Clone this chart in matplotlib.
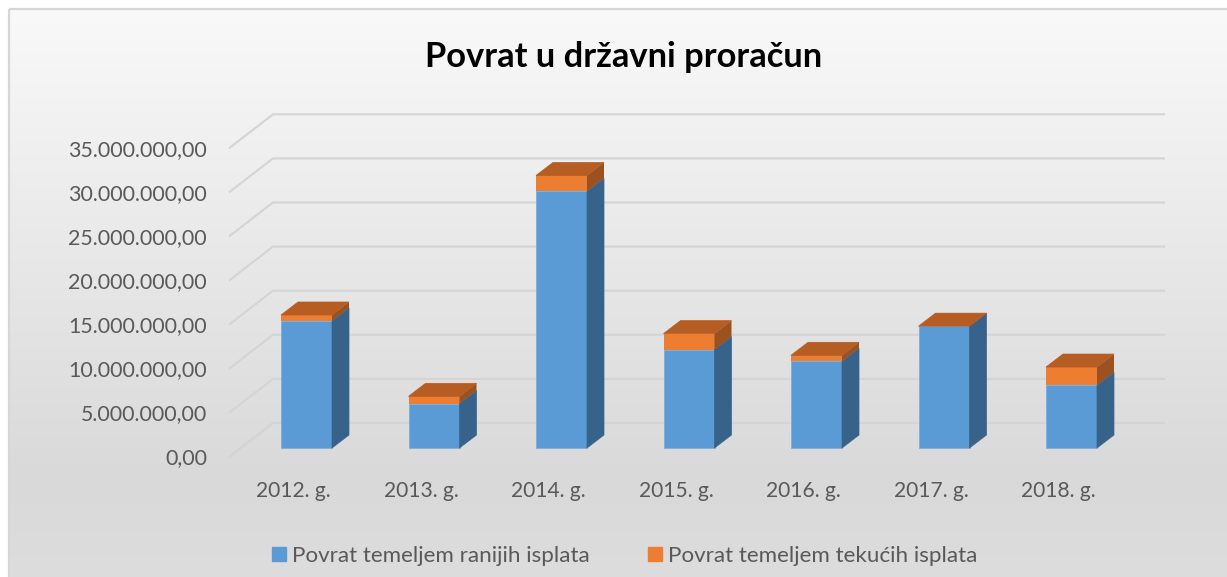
import numpy as np
import matplotlib
matplotlib.use("Agg")
import matplotlib.pyplot as plt
from matplotlib.patches import Polygon, Rectangle, Patch
from matplotlib.colors import LinearSegmentedColormap

# ---------------- data ----------------
categories = ["2012. g.", "2013. g.", "2014. g.", "2015. g.", "2016. g.", "2017. g.", "2018. g."]
ranije = [14_400_000, 5_030_000, 29_100_000, 11_160_000, 9_830_000, 13_800_000, 7_100_000]
tekuce = [680_000, 830_000, 1_800_000, 1_810_000, 680_000, 15_000, 2_080_000]
y_ticks = [0, 5_000_000, 10_000_000, 15_000_000, 20_000_000, 25_000_000, 30_000_000, 35_000_000]
series_names = ["Povrat temeljem ranijih isplata", "Povrat temeljem tekućih isplata"]
title = "Povrat u državni proračun"

# ---------------- style ----------------
FONT = ["Lato", "DejaVu Sans"]
plt.rcParams["font.family"] = FONT
BLUE, BLUE_SIDE = "#5B9BD5", "#37638B"
ORANGE, ORANGE_TOP, ORANGE_SIDE = "#ED7D31", "#B55D22", "#9B5120"
GRID = "#d4d4d4"
TXT = "#595959"

W, H = 1227, 577
fig = plt.figure(figsize=(W / 100, H / 100), dpi=100)
fig.patch.set_facecolor("white")

# background (pixel coordinates)
bg = fig.add_axes([0, 0, 1, 1], zorder=-5)
bg.set_xlim(0, W)
bg.set_ylim(H, 0)
bg.axis("off")
cmap = LinearSegmentedColormap.from_list(
    "g", [(0, "#f9f9f9"), (0.82, "#d9d9d9"), (1.0, "#dddddd")])
grad = np.linspace(0, 1, 256).reshape(-1, 1)
bg.imshow(grad, cmap=cmap, aspect="auto", extent=(9, W + 5, H + 5, 9), zorder=0)
bg.add_patch(Rectangle((8.5, 8.5), W + 20, H + 20, fill=False, ec="#d6d6d6", lw=1.6, zorder=1))

# main axes: x in category index, y in value units
PX_X0, PX_STEP = 306.5, 127.5       # pixel of category 0 (front face centre), pixel per category
PX_Y0, PX_PER_V = 448.0, 8.82e-6     # pixel of value 0 on bar front plane, pixel per unit value
ax_l, ax_r, ax_t, ax_b = 215, 1215, 90, 520
ax = fig.add_axes([ax_l / W, (H - ax_b) / H, (ax_r - ax_l) / W, (ax_b - ax_t) / H])
ax.set_xlim((ax_l - PX_X0) / PX_STEP, (ax_r - PX_X0) / PX_STEP)
ax.set_ylim((PX_Y0 - ax_b) / PX_PER_V, (PX_Y0 - ax_t) / PX_PER_V)
ax.axis("off")

def dx(px):
    return px / PX_STEP

def dy(px):
    return px / PX_PER_V

# walls / gridlines
x_front = dx(229 - PX_X0)
x_back = dx(273 - PX_X0)
x_end = dx(1165 - PX_X0)
for v in y_ticks:
    ax.plot([x_front, x_back, x_end], [v - dy(9), v + dy(25), v + dy(25)],
            color=GRID, lw=1.5, zorder=1, solid_capstyle="butt")

# tick labels on the side wall
renderer = fig.canvas.get_renderer()

def fmt(v):
    s = f"{v:,.2f}"
    return s.replace(",", "#").replace(".", ",").replace("#", ".")

ylabels = []
for v in y_ticks:
    t = ax.text(dx(207 - PX_X0), v - dy(9) - dy(7.5), fmt(v), ha="right", va="baseline",
                color=TXT, fontsize=16)
    ylabels.append(t)

def fit(t, target):
    w = t.get_window_extent(renderer).width
    return t.get_fontsize() * target / w

fs_y = fit(ylabels[-1], 139)
for t in ylabels:
    t.set_fontsize(fs_y)

# bars (3D look)
bw = 0.4
ddx, ddy = dx(17), dy(13)
xs = np.arange(len(categories))
ax.bar(xs, ranije, width=bw, color=BLUE, edgecolor="#7aaede", linewidth=0.6, zorder=3)
ax.bar(xs, tekuce, width=bw, bottom=ranije, color=ORANGE, edgecolor="none", linewidth=0, zorder=3)
for x, a, b in zip(xs, ranije, tekuce):
    x1 = x + bw / 2
    x0 = x - bw / 2
    top = a + b
    ax.add_patch(Polygon([(x1, 0), (x1 + ddx, ddy), (x1 + ddx, a + ddy), (x1, a)],
                         closed=True, fc=BLUE_SIDE, ec=BLUE_SIDE, lw=0.5, zorder=3))
    ax.add_patch(Polygon([(x1, a), (x1 + ddx, a + ddy), (x1 + ddx, top + ddy), (x1, top)],
                         closed=True, fc=ORANGE_SIDE, ec="none", lw=0, zorder=3))
    ax.add_patch(Polygon([(x0, top), (x1, top), (x1 + ddx, top + ddy), (x0 + ddx, top + ddy)],
                         closed=True, fc=ORANGE_TOP, ec=ORANGE_TOP, lw=0.5, zorder=4))

# category labels
xlabels = []
for x, c in zip(xs, categories):
    t = ax.text(x - dx(13), -dy(497 - PX_Y0), c, ha="center", va="baseline", color=TXT, fontsize=16)
    xlabels.append(t)
fs_x = fit(xlabels[0], 75)
for t in xlabels:
    t.set_fontsize(fs_x)

# title
tt = fig.text(624 / W, 1 - 67 / H, title, ha="center", va="baseline", fontsize=28,
              fontweight="bold", color="black")
tt.set_fontsize(fit(tt, 397))

# legend
probe = fig.text(0, 0, series_names[0], fontsize=16)
fs_l = fit(probe, 298)
probe.remove()
fs_px = fs_l * 100 / 72
hh = (14 / fs_px - 0.245) / 0.65
handles = [Patch(color=BLUE), Patch(color=ORANGE)]
leg = fig.legend(handles, series_names, loc="center", ncol=2,
                 bbox_to_anchor=(624.5 / W, 1 - 556 / H), frameon=False,
                 fontsize=fs_l, handlelength=14 / fs_px, handleheight=hh,
                 handletextpad=6 / fs_px, columnspacing=58 / fs_px, borderpad=0,
                 borderaxespad=0)
for t in leg.get_texts():
    t.set_color(TXT)

fig.savefig("out.png", dpi=100, facecolor="white")
